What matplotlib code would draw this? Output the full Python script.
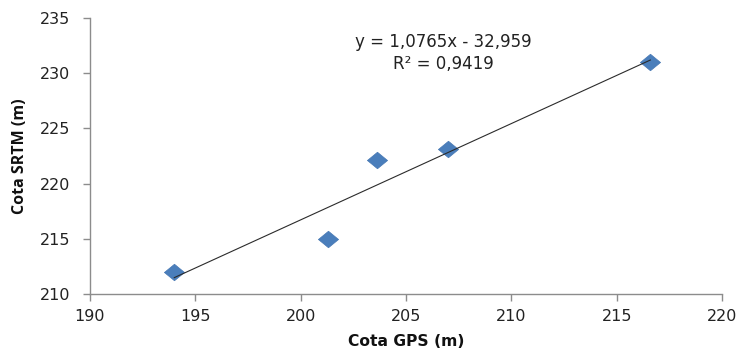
import matplotlib.pyplot as plt
import numpy as np

# Cota GPS vs Cota SRTM (m)
cota_gps = [194.0, 201.3, 203.6, 207.0, 216.6]
cota_srtm = [212.0, 215.0, 222.1, 223.1, 231.0]
x_ticks = [190, 195, 200, 205, 210, 215, 220]
y_ticks = [210, 215, 220, 225, 230, 235]
eq_text = "y = 1,0765x - 32,959\nR² = 0,9419"

plt.rcParams['font.family'] = ['DejaVu Sans']

fig = plt.figure(figsize=(7.41, 3.52), dpi=100)
ax = fig.add_axes([90 / 741, 1 - 294 / 352, (722 - 90) / 741, (294 - 18) / 352])

# wide diamond (the original picture is stretched sideways)
diamond = [(-1, 0), (0, 0.82), (1, 0), (0, -0.82), (-1, 0)]
ax.plot(cota_gps, cota_srtm, linestyle='none', marker=diamond, markersize=14.5,
        color='#4A7EBB', markeredgecolor='#4677B3', markeredgewidth=0.5, zorder=2)

# linear trend line, drawn over the markers
coef = np.polyfit(cota_gps, cota_srtm, 1)
xl = np.array([min(cota_gps), max(cota_gps)])
ax.plot(xl, np.polyval(coef, xl), color='#2b2b2b', lw=0.8, zorder=3)

ax.set_xlim(190, 220)
ax.set_ylim(210, 235)
ax.set_xticks(x_ticks)
ax.set_yticks(y_ticks)

for s in ['top', 'right']:
    ax.spines[s].set_visible(False)
for s in ['left', 'bottom']:
    ax.spines[s].set_color('#8c8c8c')
    ax.spines[s].set_linewidth(1.0)
ax.tick_params(colors='#8c8c8c', labelcolor='#222222', labelsize=11.5, length=5, width=1.0)
ax.tick_params(axis='y', pad=9)
ax.tick_params(axis='x', pad=6)

ax.set_xlabel('Cota GPS (m)', fontsize=11.2, fontweight='bold', color='#111111', va='center')
ax.set_ylabel('Cota SRTM (m)', fontsize=11.5, fontweight='bold', color='#111111',
              family=['Open Sans', 'DejaVu Sans'], va='center')
ax.xaxis.set_label_coords(0.5, -(341 - 294) / 276, transform=ax.transAxes)
ax.yaxis.set_label_coords(-(90 - 20) / 632, 0.5, transform=ax.transAxes)

ax.text(0.559, 0.873, eq_text, transform=ax.transAxes, ha='center', va='center',
        fontsize=12, color='#222222', linespacing=1.3)

fig.savefig('out.png', dpi=100)
